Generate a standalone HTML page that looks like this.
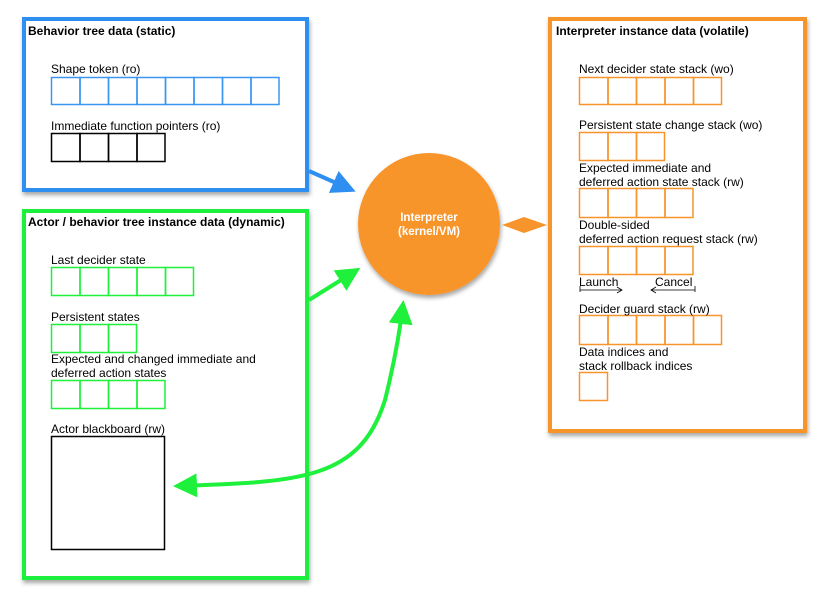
<!DOCTYPE html>
<html><head><style>body{margin:0;background:#fff}svg{display:block}text{font-family:"Liberation Sans",sans-serif;font-size:12px;fill:#000}.b{font-weight:bold}</style></head><body>
<svg width="826" height="605" viewBox="0 0 826 605" xmlns="http://www.w3.org/2000/svg">
<defs>
<filter id="sh" x="-10%" y="-10%" width="130%" height="130%"><feDropShadow dx="1" dy="3" stdDeviation="2" flood-color="#000" flood-opacity="0.35"/></filter>
<marker id="ab" markerWidth="6" markerHeight="6" refX="5" refY="3" orient="auto" markerUnits="strokeWidth"><path d="M0,0 L6,3 L0,6 z" fill="#2e8ff0"/></marker>
<marker id="ag" markerWidth="6" markerHeight="6" refX="5" refY="3" orient="auto-start-reverse" markerUnits="strokeWidth"><path d="M0,0 L6,3 L0,6 z" fill="#1ef03c"/></marker>
</defs>
<rect x="24" y="19" width="283" height="171" fill="#fff" stroke="#2e8ff0" stroke-width="4" filter="url(#sh)"/>
<text x="28" y="35" class="b">Behavior tree data (static)</text>
<text x="51" y="73">Shape token (ro)</text>
<g fill="none" stroke="#3a97f0" stroke-width="1.5">
<rect x="51.5" y="77.5" width="28.5" height="27"/><rect x="80" y="77.5" width="28.5" height="27"/><rect x="108.5" y="77.5" width="28.5" height="27"/><rect x="137" y="77.5" width="28.5" height="27"/><rect x="165.5" y="77.5" width="28.5" height="27"/><rect x="194" y="77.5" width="28.5" height="27"/><rect x="222.5" y="77.5" width="28.5" height="27"/><rect x="251" y="77.5" width="28" height="27"/>
</g>
<text x="51" y="130">Immediate function pointers (ro)</text>
<g fill="none" stroke="#000" stroke-width="1.5">
<rect x="51.5" y="133.5" width="28.5" height="28"/><rect x="80" y="133.5" width="28.5" height="28"/><rect x="108.5" y="133.5" width="28.5" height="28"/><rect x="137" y="133.5" width="28" height="28"/>
</g>
<rect x="24" y="211" width="283" height="367" fill="#fff" stroke="#1ef03c" stroke-width="4" filter="url(#sh)"/>
<text x="28" y="226" class="b">Actor / behavior tree instance data (dynamic)</text>
<text x="51" y="264">Last decider state</text>
<g fill="none" stroke="#1ef03c" stroke-width="1.5">
<rect x="51.5" y="267.5" width="28.5" height="28"/><rect x="80" y="267.5" width="28.5" height="28"/><rect x="108.5" y="267.5" width="28.5" height="28"/><rect x="137" y="267.5" width="28.5" height="28"/><rect x="165.5" y="267.5" width="28" height="28"/>
<rect x="51.5" y="324.5" width="28.5" height="28"/><rect x="80" y="324.5" width="28.5" height="28"/><rect x="108.5" y="324.5" width="28" height="28"/>
<rect x="51.5" y="380.5" width="28.5" height="28"/><rect x="80" y="380.5" width="28.5" height="28"/><rect x="108.5" y="380.5" width="28.5" height="28"/><rect x="137" y="380.5" width="28" height="28"/>
</g>
<text x="51" y="321">Persistent states</text>
<text x="51" y="363">Expected and changed immediate and</text>
<text x="51" y="377">deferred action states</text>
<text x="51" y="433">Actor blackboard (rw)</text>
<rect x="51.5" y="436.5" width="113" height="113" fill="none" stroke="#000" stroke-width="1.5"/>
<rect x="550" y="19" width="255" height="412" fill="#fff" stroke="#f7942b" stroke-width="4" filter="url(#sh)"/>
<text x="556" y="35" class="b">Interpreter instance data (volatile)</text>
<g fill="none" stroke="#f7942b" stroke-width="1.5">
<rect x="579.5" y="77.5" width="28.5" height="27"/><rect x="608" y="77.5" width="28.5" height="27"/><rect x="636.5" y="77.5" width="28.5" height="27"/><rect x="665" y="77.5" width="28.5" height="27"/><rect x="693.5" y="77.5" width="28" height="27"/>
<rect x="579.5" y="132.5" width="28.5" height="28"/><rect x="608" y="132.5" width="28.5" height="28"/><rect x="636.5" y="132.5" width="28" height="28"/>
<rect x="579.5" y="188.5" width="28.5" height="29"/><rect x="608" y="188.5" width="28.5" height="29"/><rect x="636.5" y="188.5" width="28.5" height="29"/><rect x="665" y="188.5" width="28" height="29"/>
<rect x="579.5" y="246.5" width="28.5" height="28"/><rect x="608" y="246.5" width="28.5" height="28"/><rect x="636.5" y="246.5" width="28.5" height="28"/><rect x="665" y="246.5" width="28" height="28"/>
<rect x="579.5" y="315.5" width="28.5" height="29"/><rect x="608" y="315.5" width="28.5" height="29"/><rect x="636.5" y="315.5" width="28.5" height="29"/><rect x="665" y="315.5" width="28.5" height="29"/><rect x="693.5" y="315.5" width="28" height="29"/>
<rect x="579.5" y="372.5" width="28" height="28"/>
</g>
<text x="579" y="73">Next decider state stack (wo)</text>
<text x="579" y="129">Persistent state change stack (wo)</text>
<text x="579" y="172">Expected immediate and</text>
<text x="579" y="186">deferred action state stack (rw)</text>
<text x="579" y="229">Double-sided</text>
<text x="579" y="243">deferred action request stack (rw)</text>
<text x="579" y="286">Launch</text>
<text x="655" y="286">Cancel</text>
<g stroke="#000" stroke-width="0.8" fill="none">
<path d="M580,286 v6 M580,290 h42 M617,287 l5,3 l-5,3"/>
<path d="M695,286 v6 M695,290 h-44 M656,287 l-5,3 l5,3"/>
</g>
<text x="579" y="313">Decider guard stack (rw)</text>
<text x="579" y="356">Data indices and</text>
<text x="579" y="370">stack rollback indices</text>
<line x1="309" y1="171" x2="352" y2="190" stroke="#2e8ff0" stroke-width="4" marker-end="url(#ab)"/>
<line x1="309" y1="300" x2="357" y2="270" stroke="#1ef03c" stroke-width="4" marker-end="url(#ag)"/>
<path d="M177,486 C300,482 360,480 385,400 C395,360 400,330 403,304" fill="none" stroke="#1ef03c" stroke-width="4" marker-start="url(#ag)" marker-end="url(#ag)"/>
<path d="M502,225 L524,217 L547,225 L524,233 z" fill="#f7942b"/>
<circle cx="429" cy="224" r="71" fill="#f7942b" filter="url(#sh)"/>
<text x="429" y="221" text-anchor="middle" class="b" style="fill:#fff;font-size:11.5px">Interpreter</text>
<text x="429" y="235" text-anchor="middle" class="b" style="fill:#fff;font-size:11.5px">(kernel/VM)</text>
</svg>
</body></html>
